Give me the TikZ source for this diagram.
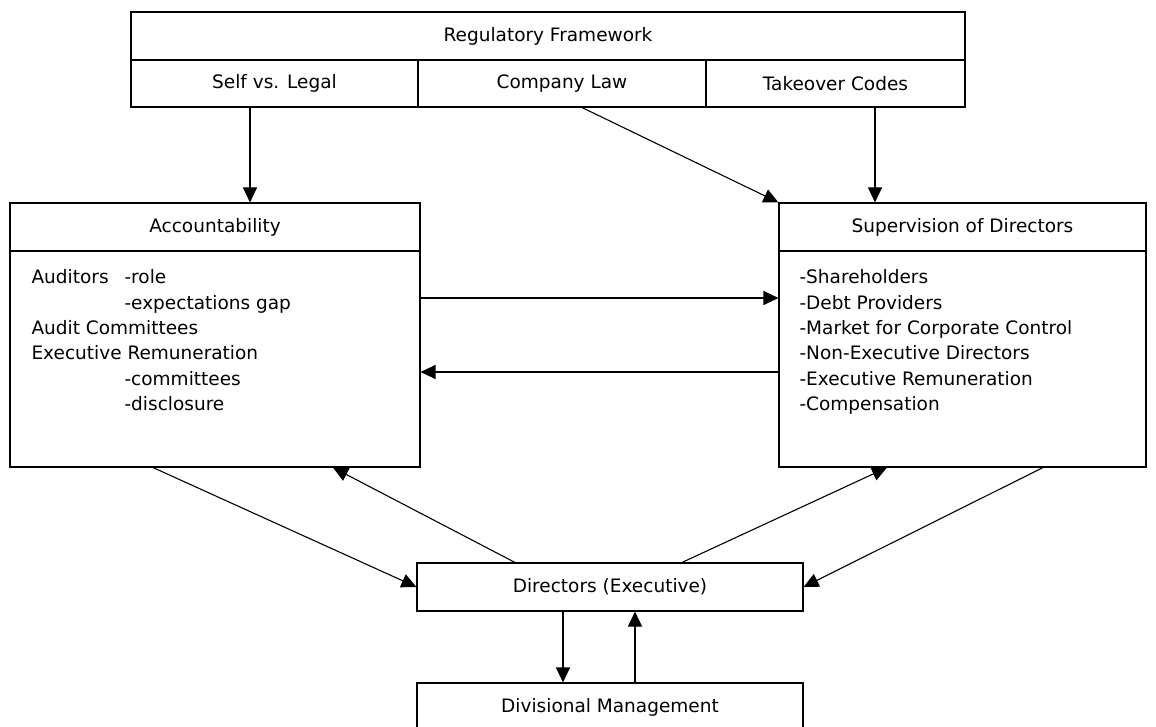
\documentclass[tikz,border=0pt]{standalone}
\usepackage{fontspec}
\setmainfont{DejaVu Sans}
\usetikzlibrary{arrows.meta}
\begin{document}
\begin{tikzpicture}[x=1pt,y=-1pt,line width=1.1pt,
  font=\fontsize{18.5}{25.4}\selectfont,
  cell/.style={draw,rectangle,inner sep=0pt},
  lst/.style={inner sep=0pt,anchor=north west,align=left},
  arr/.style={-{Triangle[length=15pt,width=14pt]}}]
\useasboundingbox (0,0) rectangle (1156,727);
% regulatory framework header and its three columns
\node[cell,minimum width=834pt,minimum height=48pt] (reg) at (548,36) {Regulatory Framework};
\node[cell,minimum width=287pt,minimum height=47pt] (self) at (274.5,83.5) {Self vs. Legal};
\node[cell,minimum width=288pt,minimum height=47pt] (law) at (562,83.5) {Company Law};
\node[cell,minimum width=259pt,minimum height=47pt] (take) at (835.5,83.5) {Takeover Codes};
% accountability panel
\node[cell,minimum width=410pt,minimum height=48pt] (accH) at (215,227) {Accountability};
\node[cell,minimum width=410pt,minimum height=216pt] (accB) at (215,359) {};
\node[lst] (accT) at (31,269) {\makebox[93pt][l]{Auditors}-role\\
  \hspace*{93pt}-expectations gap\\
  Audit Committees\\
  Executive Remuneration\\
  \hspace*{93pt}-committees\\
  \hspace*{93pt}-disclosure};
% supervision panel
\node[cell,minimum width=367pt,minimum height=48pt] (supH) at (962.5,227) {Supervision of Directors};
\node[cell,minimum width=367pt,minimum height=216pt] (supB) at (962.5,359) {};
\node[lst] (supT) at (799,269) {-Shareholders\\
  -Debt Providers\\
  -Market for Corporate Control\\
  -Non-Executive Directors\\
  -Executive Remuneration\\
  -Compensation};
% executive directors and divisional management
\node[cell,minimum width=386pt,minimum height=48pt] (dir) at (610,587) {Directors (Executive)};
\node[cell,minimum width=386pt,minimum height=48pt] (div) at (610,707) {Divisional Management};
% connectors
\draw[arr] ([xshift=-24.5pt]self.south) -- ([xshift=35pt]accH.north);
\draw[arr] ([xshift=20pt]law.south) -- (supH.north west);
\draw[arr] ([xshift=39.5pt]take.south) -- ([xshift=-87.5pt]supH.north);
\draw[arr] ([yshift=61pt]accB.east) -- ([yshift=61pt]supB.west);
\draw[arr] ([yshift=-13pt]supB.west) -- ([yshift=-13pt]accB.east);
\draw[arr] ([xshift=-62pt]accB.south) -- (dir.west);
\draw[arr] ([xshift=-95pt]dir.north) -- ([xshift=118pt]accB.south);
\draw[arr] ([xshift=72pt]dir.north) -- ([xshift=-75.5pt]supB.south);
\draw[arr] ([xshift=80.5pt]supB.south) -- (dir.east);
\draw[arr] ([xshift=-47pt]dir.south) -- ([xshift=-47pt]div.north);
\draw[arr] ([xshift=25pt]div.north) -- ([xshift=25pt]dir.south);
\end{tikzpicture}
\end{document}
